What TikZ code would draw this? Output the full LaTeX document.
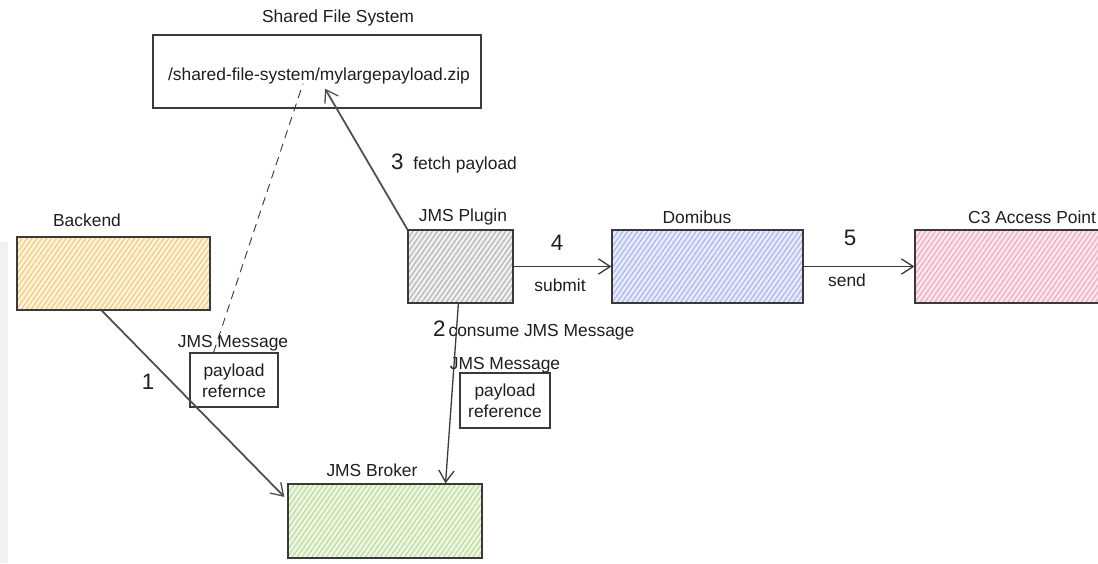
\documentclass[tikz,border=0pt]{standalone}
\usepackage{fontspec}
\setmainfont{Liberation Sans}
\usetikzlibrary{arrows.meta,patterns.meta,calc}
\definecolor{ink}{HTML}{1E1E1E}
\definecolor{edge}{HTML}{3A3A3A}
\definecolor{yelbg}{HTML}{FDF3DA}\definecolor{yelln}{HTML}{EFCF86}
\definecolor{grybg}{HTML}{F0F0F0}\definecolor{gryln}{HTML}{B8B8B8}
\definecolor{blubg}{HTML}{E8EBFA}\definecolor{bluln}{HTML}{AFB9EA}
\definecolor{pnkbg}{HTML}{FBE6EC}\definecolor{pnkln}{HTML}{EEAFC2}
\definecolor{grnbg}{HTML}{EEF7E4}\definecolor{grnln}{HTML}{BFDDA0}
\definecolor{strip}{HTML}{F1F1F3}
\begin{document}
\begin{tikzpicture}[x=0.85pt,y=-0.85pt,
  sz/.style 2 args={minimum width=#1*0.85pt, minimum height=#2*0.85pt, inner sep=0pt},
  comp/.style={draw=edge, line width=1.1pt},
  hatch/.style 2 args={preaction={fill=#1}, pattern={Lines[angle=55,distance=3.4pt,line width=1.1pt]}, pattern color=#2},
  lbl/.style={font=\fontsize{14.8}{17}\selectfont, text=ink, inner sep=0pt, align=center},
  num/.style={font=\fontsize{19}{22}\selectfont, text=ink, inner sep=0pt},
  flow/.style={draw=edge, line width=1.1pt, -{Straight Barb[length=10pt,width=13pt,line width=1.1pt]}},
  heavy/.style={line width=1.5pt, draw=edge!90},
]
\useasboundingbox (0,0) rectangle (1098,563);
\fill[strip] (0,242) rectangle (8,563);

% components
\node[comp, sz={328}{73}] (sfs) at (317,71.5) {};
\node[lbl] (sfspath) at (319,76) {/shared-file-system/mylargepayload.zip};
\node[lbl] (sfst) at (338,18) {Shared File System};

\node[comp, sz={193}{73}, hatch={yelbg}{yelln}] (backend) at (113.5,273.5) {};
\node[lbl] (backendt) at (87,220) {Backend};

\node[comp, sz={105}{73}, hatch={grybg}{gryln}] (plugin) at (460.5,266.5) {};
\node[lbl] (plugint) at (463,217) {JMS Plugin};

\node[comp, sz={191}{73}, hatch={blubg}{bluln}] (domibus) at (707.5,266.5) {};
\node[lbl] (domibust) at (697,217) {Domibus};

\node[comp, sz={200}{73}, hatch={pnkbg}{pnkln}] (c3) at (1015,266.5) {};
\node[lbl, anchor=west] (c3t) at (968,217) {C3 Access Point};

\node[comp, sz={194}{74}, hatch={grnbg}{grnln}] (broker) at (385,521) {};
\node[lbl] (brokert) at (372,470) {JMS Broker};

% message boxes
\node[comp, line width=0.9pt, sz={88}{54}] (msg1) at (234,380) {};
\node[lbl] (msg1t) at (234,381) {payload\\[1pt]refernce};
\node[lbl] (msg1h) at (233,343) {JMS Message};

\node[comp, line width=0.9pt, sz={90}{55}] (msg2) at (505,400.5) {};
\node[lbl] (msg2t) at (505,401) {payload\\[1pt]reference};
\node[lbl] (msg2h) at (505,365) {JMS Message};

% connectors
\draw[flow, heavy] ($(backend.south west)!0.44!(backend.south east)$) -- ($(broker.north west)!0.18!(broker.south west)+(-3,0)$);
\node[num] (n1) at (148,382) {1};

\draw[flow] ($(plugin.south west)!0.48!(plugin.south east)$) -- ($(broker.north west)!0.81!(broker.north east)$);
\node[lbl, anchor=west] (n2) at (433,330) {{\fontsize{19}{22}\selectfont 2}\,consume JMS Message};

\draw[flow, heavy] (plugin.north west) -- ($(sfs.south)+(8,-20)$);
\node[lbl, anchor=west] (n3) at (391,163) {{\fontsize{19}{22}\selectfont 3}\ \ fetch payload};

\draw[flow] (plugin.east) -- (domibus.west);
\node[num] (n4) at (557,243) {4};
\node[lbl] (submit) at (560,285) {submit};

\draw[flow] (domibus.east) -- (c3.west);
\node[num] (n5) at (850,238) {5};
\node[lbl] (send) at (847,280) {send};

\draw[draw=edge, line width=0.8pt, dash pattern=on 7pt off 5pt] ($(msg1.north west)!0.27!(msg1.north east)$) -- ($(sfs.south)+(-14,-25)$);
\end{tikzpicture}
\end{document}
